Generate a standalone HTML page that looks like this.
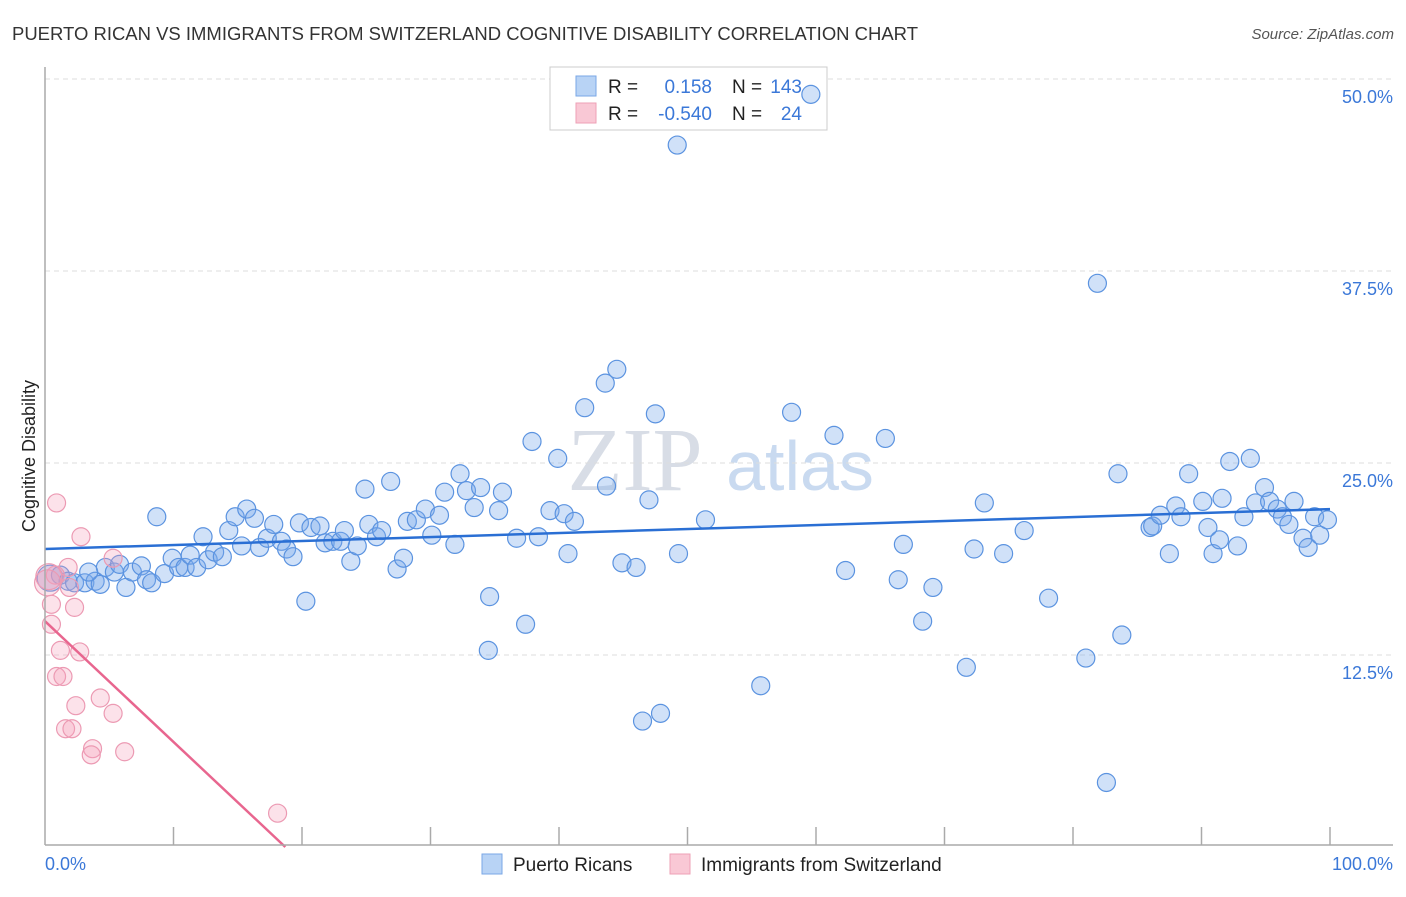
<!DOCTYPE html>
<html><head><meta charset="utf-8"><style>
body{margin:0;background:#fff;font-family:"Liberation Sans",sans-serif;}
</style></head><body>
<svg id="chart" width="1406" height="892" xmlns="http://www.w3.org/2000/svg">
<text x="12" y="40" font-size="18" fill="#333" textLength="906" lengthAdjust="spacingAndGlyphs">PUERTO RICAN VS IMMIGRANTS FROM SWITZERLAND COGNITIVE DISABILITY CORRELATION CHART</text>
<text x="1394" y="39" font-size="15" fill="#555" font-style="italic" text-anchor="end">Source: ZipAtlas.com</text>
<text x="35" y="456" font-size="18" fill="#222" text-anchor="middle" transform="rotate(-90 35 456)">Cognitive Disability</text>
<text x="635" y="490" font-size="90" fill="#d8dde6" font-family="Liberation Serif,serif" text-anchor="middle">ZIP</text>
<text x="800" y="490" font-size="70" fill="#c9daf0" text-anchor="middle">atlas</text>
<g id="grid"></g>
<g>
<rect x="550" y="67" width="277" height="63" fill="#fff" stroke="#ccc"/>
<rect x="576" y="76" width="20" height="20" fill="#b8d3f5" stroke="#7aa7e6"/>
<rect x="576" y="103" width="20" height="20" fill="#f9c8d5" stroke="#eea0b6"/>
<text x="608" y="93" font-size="19" fill="#222">R =</text><text x="712" y="93" font-size="19" fill="#3b78d8" text-anchor="end">0.158</text>
<text x="732" y="93" font-size="19" fill="#222">N =</text><text x="802" y="93" font-size="19" fill="#3b78d8" text-anchor="end">143</text>
<text x="608" y="120" font-size="19" fill="#222">R =</text><text x="712" y="120" font-size="19" fill="#3b78d8" text-anchor="end">-0.540</text>
<text x="732" y="120" font-size="19" fill="#222">N =</text><text x="802" y="120" font-size="19" fill="#3b78d8" text-anchor="end">24</text>
</g>
<g id="pts"></g><g id="lines"></g>
<line x1="45" y1="67" x2="45" y2="845" stroke="#aaa" stroke-width="1.5"/>
<line x1="45" y1="845" x2="1393" y2="845" stroke="#aaa" stroke-width="1.5"/>
<text x="45" y="870" font-size="18" fill="#3b78d8">0.0%</text>
<text x="1393" y="870" font-size="18" fill="#3b78d8" text-anchor="end">100.0%</text>
<g>
<rect x="482" y="854" width="20" height="20" fill="#b8d3f5" stroke="#7aa7e6"/>
<text x="513" y="871" font-size="19" fill="#222">Puerto Ricans</text>
<rect x="670" y="854" width="20" height="20" fill="#f9c8d5" stroke="#eea0b6"/>
<text x="701" y="871" font-size="19" fill="#222">Immigrants from Switzerland</text>
</g>
</svg>
<script>
const yTicks=[12.5,25,37.5,50];
const yTickLabels=["12.5%","25.0%","37.5%","50.0%"];
const xTicks=[10,20,30,40,50,60,70,80,90,100];
const blueX=[0.4,1.2,1.8,2.3,3.1,3.9,4.3,3.4,4.7,5.4,5.8,6.3,6.8,7.5,7.9,8.3,8.7,9.3,9.9,10.4,10.9,11.3,11.8,12.3,12.7,13.2,13.8,14.3,14.8,15.3,15.7,16.3,16.7,17.3,17.8,18.4,18.8,19.3,19.8,20.3,20.7,21.4,21.8,22.4,23.0,23.3,23.8,24.3,24.9,25.2,25.8,26.2,26.9,27.4,27.9,28.2,28.9,29.6,30.1,30.7,31.1,31.9,32.3,32.8,33.4,33.9,34.5,34.6,35.3,35.6,36.7,37.4,37.9,38.4,39.3,39.9,40.4,40.7,41.2,42.0,43.6,43.7,44.5,44.9,46.0,46.5,47.0,47.5,47.9,49.2,49.3,51.4,55.7,58.1,59.6,61.4,62.3,65.4,66.4,66.8,68.3,69.1,71.7,72.3,73.1,74.6,76.2,78.1,81.0,81.9,82.6,83.5,83.8,86.0,86.2,86.8,87.5,88.0,88.4,89.0,90.1,90.5,90.9,91.4,91.6,92.2,92.8,93.3,93.8,94.2,94.9,95.3,95.9,96.3,96.8,97.2,97.9,98.3,98.8,99.2,99.8];
const blueY=[17.5,17.7,17.3,17.2,17.2,17.3,17.1,17.9,18.2,17.9,18.4,16.9,17.9,18.3,17.4,17.2,21.5,17.8,18.8,18.2,18.2,19.0,18.2,20.2,18.7,19.2,18.9,20.6,21.5,19.6,22.0,21.4,19.5,20.1,21.0,19.9,19.4,18.9,21.1,16.0,20.8,20.9,19.8,19.9,19.9,20.6,18.6,19.6,23.3,21.0,20.2,20.6,23.8,18.1,18.8,21.2,21.3,22.0,20.3,21.6,23.1,19.7,24.3,23.2,22.1,23.4,12.8,16.3,21.9,23.1,20.1,14.5,26.4,20.2,21.9,25.3,21.7,19.1,21.2,28.6,30.2,23.5,31.1,18.5,18.2,8.2,22.6,28.2,8.7,45.7,19.1,21.3,10.5,28.3,49.0,26.8,18.0,26.6,17.4,19.7,14.7,16.9,11.7,19.4,22.4,19.1,20.6,16.2,12.3,36.7,4.2,24.3,13.8,20.8,20.9,21.6,19.1,22.2,21.5,24.3,22.5,20.8,19.1,20.0,22.7,25.1,19.6,21.5,25.3,22.4,23.4,22.5,22.0,21.5,21.0,22.5,20.1,19.5,21.5,20.3,21.3];
const pinkX=[0.9,2.8,1.8,5.3,2.3,0.5,0.5,1.2,2.7,0.9,1.4,2.4,4.3,5.3,1.6,2.1,3.7,3.6,6.2,18.1,1.9,0.8,0.3,0.2];
const pinkY=[22.4,20.2,18.2,18.8,15.6,15.8,14.5,12.8,12.7,11.1,11.1,9.2,9.7,8.7,7.7,7.7,6.4,6.0,6.2,2.2,16.9,17.7,17.6,17.2];
const blueTrend=[19.4,22.0];
const pinkTrend=[14.7,0,18.7];
const NS="http://www.w3.org/2000/svg";
const X=v=>45+v*12.85, Y=v=>847-v*15.36;
function mk(t,a,p){const e=document.createElementNS(NS,t);for(const k in a)e.setAttribute(k,a[k]);p.appendChild(e);return e;}
const grid=document.getElementById('grid'),pts=document.getElementById('pts'),lines=document.getElementById('lines'),svg=document.getElementById('chart');
yTicks.forEach((v,i)=>{
 const l=mk('line',{x1:45,x2:1393,y1:Y(v),y2:Y(v),stroke:'#ddd','stroke-dasharray':'5,4'},grid);
 
 
 const t=mk('text',{x:1393,y:Y(v)+24,'font-size':18,fill:'#3b78d8','text-anchor':'end'},svg);
 t.textContent=yTickLabels[i];
 
 
});
xTicks.forEach(v=>{
 const l=mk('line',{x1:X(v),x2:X(v),y1:827,y2:845,stroke:'#aaa','stroke-width':1.5},grid);
 
 
});
blueX.forEach((x,i)=>{
 const c=mk('circle',{cx:X(x),cy:Y(blueY[i]),r:i==0?13:9,fill:'rgba(120,170,235,0.35)',stroke:'#5b93e0','stroke-width':1.2},pts);
 
 
});
pinkX.forEach((x,i)=>{
 const c=mk('circle',{cx:X(x),cy:Y(pinkY[i]),r:i>=22?13:9,fill:'rgba(245,160,185,0.3)',stroke:'#ec9ab3','stroke-width':1.2},pts);
 
 
});
const bl=mk('line',{x1:X(0),y1:Y(blueTrend[0]),x2:X(100),y2:Y(blueTrend[1]),stroke:'#2a6fd4','stroke-width':2.5},lines);


const pl=mk('line',{x1:X(0),y1:Y(pinkTrend[0]),x2:X(pinkTrend[2]),y2:Y(pinkTrend[1]),stroke:'#e8668f','stroke-width':2.5},lines);


</script>
</body></html>
